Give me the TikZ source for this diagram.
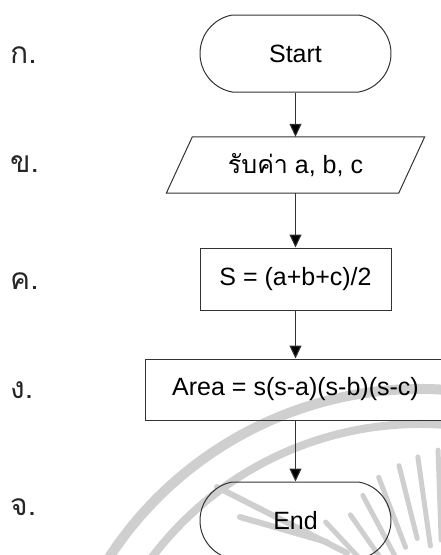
\documentclass[tikz,border=0pt]{standalone}
\usepackage{fontspec}
\setmainfont{Liberation Sans}
\newfontfamily\thaifont[Script=Thai]{Loma}
\usetikzlibrary{arrows.meta,shapes.misc}
\newcommand\chartfont{\fontsize{25}{30}\selectfont}
\newcommand\markfont{\thaifont\fontsize{30}{34}\selectfont}

\begin{document}
\begin{tikzpicture}[x=1pt,y=-1pt,
  outline/.style={draw=black!80, line width=1pt},
  term/.style={outline, rounded rectangle, rounded rectangle arc length=160,
    minimum width=191pt, minimum height=77pt, inner sep=0pt, font=\chartfont},
  proc/.style={outline, rectangle, minimum height=62pt, inner sep=0pt, font=\chartfont},
  iobox/.style={rectangle, minimum width=232pt, minimum height=56pt, inner sep=0pt, font=\chartfont},
  flow/.style={draw=black!80, line width=1pt, -{Triangle[length=13pt,width=12pt,fill=black]}},
  stepmark/.style={anchor=base west, inner sep=0pt, font=\markfont, text=black!85},
  wm/.style={draw=black!19, line cap=round}]

\useasboundingbox (0,0) rectangle (441,555);

% faint seal in the background
\begin{scope}
  \clip (0,0) rectangle (441,555);
  \draw[wm, line width=10pt] (420,760) ++(78:371pt) arc[start angle=78, end angle=160, radius=371pt];
  \draw[wm, line width=8pt]  (420,760) ++(80:336pt) arc[start angle=80, end angle=150, radius=336pt];
  \foreach \a/\ri/\ro in {92/110/200, 98/105/195, 104/115/190, 111/110/185, 118/105/175,
                          125/100/165, 133/105/175}{
    \draw[wm, line width=5pt] (445,650) ++(\a:\ri pt) -- ++(\a:\ro pt - \ri pt);
  }
  \draw[wm, line width=6pt] (217,487) -- (347,553);
  \draw[wm, line width=6pt] (240,517) -- (327,542);
\end{scope}

% flowchart
\node[term] (start) at (295.5,53.5) {Start};
\node[iobox] (inp) at (295.5,165) {{\thaifont รับค่า} a, b, c};
\draw[outline, line join=miter]
  ([xshift=-13pt]inp.south west) -- ([xshift=13pt]inp.north west) --
  ([xshift=13pt]inp.north east) -- ([xshift=-13pt]inp.south east) -- cycle;
\node[proc, minimum width=191pt] (half) at (295.5,279) {S = (a+b+c)/2};
\node[proc, minimum width=300pt, minimum height=61pt] (area) at (295.5,389.5) {Area = s(s-a)(s-b)(s-c)};
\node[term] (stop) at (295.5,520.5) {End};

\draw[flow] (start.south) -- (inp.north);
\draw[flow] (inp.south) -- (half.north);
\draw[flow] (half.south) -- (area.north);
\draw[flow] (area.south) -- (stop.north);

% step labels
\node[stepmark] (m1) at (10,63) {ก.};
\node[stepmark] (m2) at (10,172) {ข.};
\node[stepmark] (m3) at (10,289) {ค.};
\node[stepmark] (m4) at (10,398) {ง.};
\node[stepmark] (m5) at (10,515) {จ.};
\end{tikzpicture}
\end{document}
